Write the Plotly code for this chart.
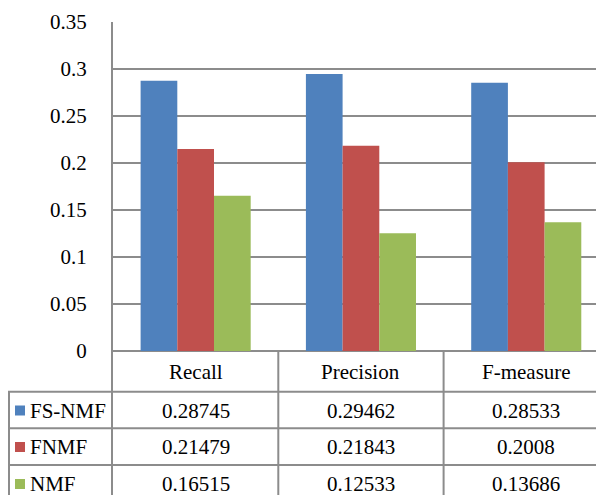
import plotly.graph_objects as go

categories = ["Recall", "Precision", "F-measure"]
series_names = ["FS-NMF", "FNMF", "NMF"]
fs_nmf = [0.28745, 0.29462, 0.28533]
fnmf = [0.21479, 0.21843, 0.2008]
nmf = [0.16515, 0.12533, 0.13686]
table_text = {
    "FS-NMF": ["0.28745", "0.29462", "0.28533"],
    "FNMF": ["0.21479", "0.21843", "0.2008"],
    "NMF": ["0.16515", "0.12533", "0.13686"],
}
y_tickvals = [0, 0.05, 0.1, 0.15, 0.2, 0.25, 0.3, 0.35]
y_ticktext = ["0", "0.05", "0.1", "0.15", "0.2", "0.25", "0.3", "0.35"]

colors = ["#4F81BD", "#C0504D", "#9BBB59"]
series_values = [fs_nmf, fnmf, nmf]

OFF = 8                      # default body margin of the html page
W, H = 604 - OFF, 495 - OFF
L, T = 113 - OFF, 22 - OFF
ZERO_PX = 351 - OFF
PX_PER_UNIT = (ZERO_PX - T) / 0.35
Y_MIN = -(H - ZERO_PX) / PX_PER_UNIT
COL_W = 165.3
X_MAX = -0.5 + (W - L) / COL_W

FONT = '"Liberation Serif", "Times New Roman", Times, serif'
FS = 21
LINE = dict(color="#8c8c8c", width=2)


def yv(page_px):
    return (ZERO_PX - (page_px - OFF)) / PX_PER_UNIT


def xp(page_px):
    return (page_px - OFF - L) / (W - L)


fig = go.Figure()
for name, vals, c in zip(series_names, series_values, colors):
    fig.add_trace(go.Bar(x=categories, y=vals, name=name, marker=dict(color=c, line=dict(width=0))))

shapes = []
annotations = []

row_lines_px = [391.7, 428.3, 465.0]
for p in row_lines_px:
    shapes.append(dict(type="line", xref="paper", yref="y", x0=xp(8), x1=1, y0=yv(p), y1=yv(p), line=LINE, layer="above"))
shapes.append(dict(type="line", xref="paper", yref="y", x0=xp(9), x1=xp(9), y0=yv(row_lines_px[0]), y1=Y_MIN, line=LINE))
for xs in [0.5, 1.5]:
    shapes.append(dict(type="line", xref="x", yref="y", x0=xs, x1=xs, y0=0, y1=Y_MIN, line=LINE, layer="above"))

for i, cat in enumerate(categories):
    annotations.append(dict(x=i, y=yv(371.5), xref="x", yref="y", text=cat, showarrow=False,
                            font=dict(family=FONT, size=FS, color="black"), xanchor="center", yanchor="middle"))

row_centers_px = [410.5, 447, 484]
for r, (name, c) in enumerate(zip(series_names, colors)):
    yc = yv(row_centers_px[r])
    shapes.append(dict(type="rect", xref="paper", yref="y", x0=xp(15), x1=xp(25),
                       y0=yc - 5 / PX_PER_UNIT, y1=yc + 5 / PX_PER_UNIT,
                       fillcolor=c, line=dict(width=0)))
    annotations.append(dict(x=xp(28), y=yc, xref="paper", yref="y", text=name, showarrow=False,
                            font=dict(family=FONT, size=FS, color="black"), xanchor="left", yanchor="middle"))
    for i, t in enumerate(table_text[name]):
        annotations.append(dict(x=i, y=yc, xref="x", yref="y", text=t, showarrow=False,
                                font=dict(family=FONT, size=FS, color="black"), xanchor="center", yanchor="middle"))

fig.update_layout(
    width=W, height=H,
    margin=dict(l=L, r=0, t=T, b=0),
    paper_bgcolor="white", plot_bgcolor="white",
    barmode="group", bargap=0.334, bargroupgap=0,
    showlegend=False,
    xaxis=dict(range=[-0.5, X_MAX], showticklabels=False, showgrid=False, zeroline=False,
               showline=False, fixedrange=True),
    yaxis=dict(range=[Y_MIN, 0.35], tickvals=y_tickvals, ticktext=y_ticktext,
               showgrid=True, gridcolor="#8c8c8c", gridwidth=2,
               zeroline=True, zerolinecolor="#8c8c8c", zerolinewidth=2,
               showline=True, linecolor="#8c8c8c", linewidth=2,
               ticks="", ticklabelstandoff=20,
               tickfont=dict(family=FONT, size=FS, color="black")),
    shapes=shapes,
    annotations=annotations,
)

fig.write_html("out.html")
